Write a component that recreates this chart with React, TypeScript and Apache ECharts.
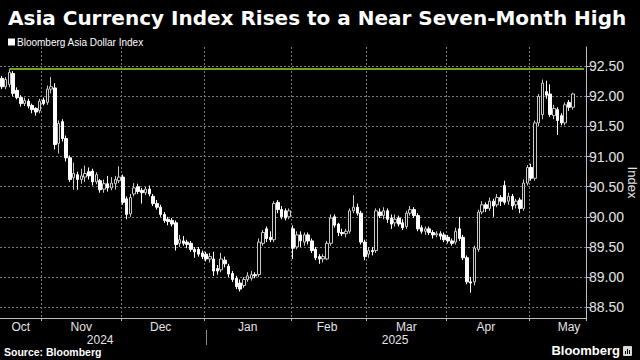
import React, { useEffect, useRef } from "react";
import * as echarts from "echarts";

const TITLE = "Asia Currency Index Rises to a Near Seven-Month High";
const SERIES_NAME = "Bloomberg Asia Dollar Index";
const SOURCE = "Source: Bloomberg";
const BRAND = "Bloomberg";
const AXIS_NAME = "Index";
const MONTH_NAMES = ["Jan", "Feb", "Mar", "Apr", "May", "Jun", "Jul", "Aug", "Sep", "Oct", "Nov", "Dec"];
const Y_TICKS = [88.5, 89, 89.5, 90, 90.5, 91, 91.5, 92, 92.5];
const Y_MIN = 88.32;
const Y_MAX = 92.82;
const FIRST_DAY = "2024-10-17";
const LAST_DAY = "2025-05-21";

// [open, close, low, high]
const ohlcOct = [
  [92.30, 92.16, 92.12, 92.34], [92.16, 92.28, 92.12, 92.32], [92.20, 92.40, 92.15, 92.46],
  [92.38, 92.05, 92.00, 92.42], [92.10, 91.98, 91.95, 92.15], [91.98, 91.88, 91.83, 92.02],
  [91.88, 91.93, 91.84, 91.98], [91.92, 91.84, 91.80, 91.96], [91.85, 91.78, 91.72, 91.88],
  [91.80, 91.74, 91.68, 91.82], [91.76, 91.92, 91.72, 91.96],
];
const ohlcNov = [
  [91.94, 91.88, 91.85, 91.98], [91.90, 92.12, 91.86, 92.18], [92.12, 92.16, 92.05, 92.32],
  [92.14, 91.20, 91.12, 92.22], [91.22, 91.55, 91.05, 91.60], [91.58, 91.30, 91.25, 91.62],
  [91.30, 90.98, 90.92, 91.35], [90.98, 90.62, 90.58, 91.02], [90.65, 90.72, 90.45, 90.90],
  [90.70, 90.62, 90.45, 90.75], [90.62, 90.68, 90.55, 90.80], [90.66, 90.72, 90.58, 90.85],
  [90.75, 90.68, 90.62, 90.82], [90.76, 90.58, 90.52, 90.80], [90.58, 90.70, 90.54, 90.74],
  [90.60, 90.45, 90.40, 90.63], [90.46, 90.55, 90.40, 90.62], [90.55, 90.48, 90.42, 90.68],
  [90.48, 90.56, 90.44, 90.66], [90.55, 90.62, 90.45, 90.68], [90.60, 90.66, 90.56, 90.84],
];
const ohlcDec = [
  [90.66, 90.24, 90.20, 90.70], [90.30, 90.04, 89.96, 90.34], [90.05, 90.32, 90.00, 90.38],
  [90.38, 90.48, 90.34, 90.56], [90.50, 90.42, 90.38, 90.55], [90.44, 90.40, 90.22, 90.48],
  [90.40, 90.46, 90.36, 90.50], [90.46, 90.38, 90.34, 90.52], [90.34, 90.22, 90.18, 90.38],
  [90.22, 90.16, 90.12, 90.28], [90.16, 90.04, 90.00, 90.20], [90.04, 89.94, 89.90, 90.08],
  [89.96, 89.92, 89.86, 90.00], [89.94, 89.88, 89.84, 89.98], [89.90, 89.54, 89.44, 89.94],
  [89.56, 89.62, 89.50, 89.70], [89.60, 89.56, 89.52, 89.68], [89.58, 89.54, 89.48, 89.62],
  [89.56, 89.46, 89.42, 89.60], [89.46, 89.42, 89.32, 89.50], [89.46, 89.38, 89.34, 89.50],
  [89.40, 89.34, 89.30, 89.44],
];
const ohlcJan = [
  [89.38, 89.30, 89.26, 89.42], [89.30, 89.34, 89.24, 89.40], [89.30, 89.10, 89.02, 89.42],
  [89.14, 89.10, 89.04, 89.20], [89.12, 89.30, 89.08, 89.40], [89.28, 89.22, 89.16, 89.34],
  [89.18, 89.05, 89.00, 89.22], [89.06, 88.96, 88.92, 89.10], [88.98, 88.84, 88.80, 89.02],
  [88.90, 88.80, 88.76, 88.96], [88.86, 88.96, 88.82, 89.00], [88.96, 89.02, 88.92, 89.08],
  [88.98, 89.04, 88.94, 89.10], [89.04, 89.02, 88.98, 89.08], [89.04, 89.58, 89.00, 89.64],
  [89.56, 89.74, 89.52, 89.78], [89.80, 89.64, 89.58, 89.84], [89.66, 89.62, 89.58, 89.76],
  [89.62, 90.22, 89.58, 90.26], [90.24, 90.12, 90.06, 90.28], [90.12, 90.00, 89.96, 90.18],
  [90.10, 89.98, 89.94, 90.14], [90.00, 90.10, 89.96, 90.14],
];
const ohlcFeb = [
  [89.80, 89.48, 89.30, 89.86], [89.50, 89.70, 89.46, 89.76], [89.70, 89.60, 89.50, 89.76],
  [89.58, 89.70, 89.52, 89.74], [89.70, 89.60, 89.54, 89.74], [89.60, 89.44, 89.40, 89.64],
  [89.46, 89.32, 89.28, 89.50], [89.34, 89.30, 89.22, 89.38], [89.30, 89.34, 89.24, 89.38],
  [89.30, 89.56, 89.28, 89.60], [89.56, 89.98, 89.52, 90.04], [90.00, 89.86, 89.82, 90.04],
  [89.88, 89.74, 89.68, 89.90], [89.74, 89.72, 89.68, 89.80], [89.72, 89.76, 89.66, 89.80],
  [89.76, 90.10, 89.72, 90.14], [90.10, 90.16, 90.06, 90.36], [90.16, 90.06, 90.02, 90.22],
  [90.06, 89.58, 89.54, 90.10], [89.58, 89.34, 89.28, 89.62],
];
const ohlcMar = [
  [89.38, 89.44, 89.32, 89.50], [89.44, 89.42, 89.36, 89.50], [89.44, 90.10, 89.40, 90.14],
  [90.08, 90.02, 89.98, 90.14], [90.02, 90.10, 89.96, 90.16], [90.10, 89.96, 89.90, 90.14],
  [89.98, 89.88, 89.80, 90.04], [89.90, 89.96, 89.84, 90.04], [89.98, 89.88, 89.84, 90.02],
  [89.90, 89.82, 89.78, 89.96], [89.84, 90.06, 89.80, 90.10], [90.06, 90.12, 90.02, 90.18],
  [90.12, 90.02, 89.98, 90.16], [90.02, 89.80, 89.76, 90.06], [89.82, 89.76, 89.72, 89.86],
  [89.76, 89.80, 89.70, 89.84], [89.80, 89.74, 89.70, 89.84], [89.74, 89.70, 89.64, 89.78],
  [89.70, 89.72, 89.66, 89.76], [89.72, 89.68, 89.62, 89.76], [89.70, 89.62, 89.58, 89.74],
];
const ohlcApr = [
  [89.66, 89.60, 89.56, 89.70], [89.60, 89.56, 89.52, 89.64], [89.58, 89.76, 89.54, 89.82],
  [89.80, 89.64, 89.60, 90.00], [89.66, 89.32, 89.28, 89.70], [89.32, 88.92, 88.88, 89.36],
  [88.92, 88.90, 88.74, 89.00], [88.92, 89.48, 88.86, 89.52], [89.46, 90.08, 89.42, 90.12],
  [90.08, 90.20, 90.04, 90.26], [90.20, 90.14, 90.08, 90.24], [90.14, 90.26, 90.10, 90.32],
  [90.26, 90.18, 90.00, 90.30], [90.20, 90.32, 90.16, 90.38], [90.32, 90.26, 90.18, 90.36],
  [90.52, 90.24, 90.20, 90.60], [90.26, 90.34, 90.20, 90.40], [90.34, 90.18, 90.12, 90.38],
  [90.20, 90.26, 90.14, 90.30], [90.28, 90.14, 90.06, 90.32], [90.14, 90.56, 90.10, 90.62],
  [90.56, 90.82, 90.52, 90.86],
];
const ohlcMay = [
  [90.82, 90.64, 90.60, 90.88], [90.64, 91.56, 90.60, 91.60], [91.56, 92.00, 91.50, 92.04],
  [91.70, 92.22, 91.62, 92.28], [92.08, 92.02, 91.96, 92.26], [92.04, 91.70, 91.66, 92.20],
  [91.68, 91.80, 91.62, 91.86], [91.78, 91.60, 91.36, 91.82], [91.68, 91.56, 91.52, 91.72],
  [91.56, 91.86, 91.52, 91.90], [91.90, 91.82, 91.76, 91.94], [91.82, 92.04, 91.78, 92.06],
];

function tradingDays(start: string, end: string): string[] {
  const out: string[] = [];
  const d = new Date(start + "T00:00:00Z");
  const e = new Date(end + "T00:00:00Z");
  while (d <= e) {
    const wd = d.getUTCDay();
    if (wd !== 0 && wd !== 6) out.push(d.toISOString().slice(0, 10));
    d.setUTCDate(d.getUTCDate() + 1);
  }
  return out;
}

function weekdaysInMonth(ym: string): number {
  const [y, m] = ym.split("-").map(Number);
  const last = new Date(Date.UTC(y, m, 0)).getUTCDate();
  let n = 0;
  for (let day = 1; day <= last; day++) {
    const wd = new Date(Date.UTC(y, m - 1, day)).getUTCDay();
    if (wd !== 0 && wd !== 6) n++;
  }
  return n;
}

export default function App() {
  const ref = useRef<HTMLDivElement>(null);
  useEffect(() => {
    if (!ref.current) return;
    const chart = echarts.init(ref.current, undefined, { renderer: "svg" });

    const dates = tradingDays(FIRST_DAY, LAST_DAY);
    const data = [...ohlcOct, ...ohlcNov, ...ohlcDec, ...ohlcJan, ...ohlcFeb, ...ohlcMar, ...ohlcApr, ...ohlcMay];

    const months: { ym: string; start: number; end: number }[] = [];
    dates.forEach((d, i) => {
      const ym = d.slice(0, 7);
      if (!months.length || months[months.length - 1].ym !== ym) months.push({ ym, start: i, end: i });
      else months[months.length - 1].end = i;
    });
    const monthStarts = new Set(months.slice(1).map((m) => m.start));
    const monthLabels = new Map<number, string>();
    months.forEach((m, k) => {
      const name = MONTH_NAMES[Number(m.ym.slice(5, 7)) - 1];
      let idx: number;
      if (k === 0) idx = m.start + Math.floor((m.end - m.start) / 2);
      else idx = m.start + Math.floor((weekdaysInMonth(m.ym) - 1) / 2);
      monthLabels.set(Math.min(idx, dates.length - 1), name);
    });

    const years: { y: string; start: number; end: number }[] = [];
    dates.forEach((d, i) => {
      const y = d.slice(0, 4);
      if (!years.length || years[years.length - 1].y !== y) years.push({ y, start: i, end: i });
      else years[years.length - 1].end = i;
    });
    const yearLabels = new Map<number, string>();
    years.forEach((y) => yearLabels.set(y.start + Math.floor((y.end - y.start) / 2), y.y));
    const yearStart = years.length > 1 ? years[1].start : -1;

    let hiIdx = 0;
    data.forEach((c, i) => { if (c[3] > data[hiIdx][3]) hiIdx = i; });
    const priorHigh = data[hiIdx][3];

    const labelColor = "#e4e4e4";
    const gridLine = { color: "#7a7a7a", type: [2, 2] as any, width: 1 };

    const option: any = {
      animation: false,
      backgroundColor: "#000000",
      title: {
        text: TITLE,
        left: 3,
        top: 3,
        textStyle: { color: "#ffffff", fontSize: 20, fontWeight: "bold", fontFamily: "DejaVu Sans" },
      },
      legend: {
        left: 3,
        top: 32,
        itemWidth: 7,
        itemHeight: 7,
        icon: "rect",
        selectedMode: false,
        textStyle: { color: "#ffffff", fontSize: 10, fontFamily: "Liberation Sans", padding: [0, 0, 0, -3] },
        data: [{ name: SERIES_NAME, itemStyle: { color: "#ffffff", borderWidth: 0 } }],
      },
      grid: { left: 0, right: 54, top: 47, bottom: 42, containLabel: false, outerBoundsMode: "none" },
      xAxis: [
        {
          type: "category",
          data: dates,
          boundaryGap: true,
          axisLine: { show: true, lineStyle: { color: "#bdbdbd", width: 1 } },
          axisTick: { show: true, interval: (i: number) => monthStarts.has(i), length: 3, lineStyle: { color: "#bdbdbd" } },
          axisLabel: {
            interval: (i: number) => monthLabels.has(i),
            formatter: (_v: string, i: number) => monthLabels.get(i) || "",
            color: labelColor,
            fontSize: 12,
            fontFamily: "Liberation Sans",
            margin: 3,
          },
          splitLine: { show: true, interval: (i: number) => monthStarts.has(i), lineStyle: gridLine },
        },
        {
          type: "category",
          data: dates,
          boundaryGap: true,
          position: "bottom",
          offset: 12,
          axisLine: { show: false },
          axisTick: {
            show: true,
            alignWithLabel: true,
            interval: (i: number) => i === yearStart,
            length: 15,
            lineStyle: { color: "#8a8a8a" },
          },
          axisLabel: {
            interval: (i: number) => yearLabels.has(i),
            formatter: (_v: string, i: number) => yearLabels.get(i) || "",
            color: labelColor,
            fontSize: 12,
            fontFamily: "Liberation Sans",
            margin: 4,
          },
          splitLine: { show: false },
        },
      ],
      yAxis: {
        type: "value",
        position: "right",
        min: Y_MIN,
        max: Y_MAX,
        axisLine: { show: true, lineStyle: { color: "#bdbdbd" } },
        axisTick: { show: true, customValues: Y_TICKS, length: 4, lineStyle: { color: "#bdbdbd" } },
        axisLabel: {
          customValues: Y_TICKS,
          formatter: (v: number) => v.toFixed(2),
          color: labelColor,
          fontSize: 14,
          fontFamily: "Liberation Sans",
          margin: 3,
        },
        splitLine: { show: true, lineStyle: gridLine },
        name: AXIS_NAME,
        nameLocation: "middle",
        nameRotate: -90,
        nameGap: 40,
        nameMoveOverlap: false,
        nameTextStyle: { color: labelColor, fontSize: 13, fontFamily: "Liberation Sans" },
      },
      series: [
        {
          type: "candlestick",
          name: SERIES_NAME,
          data,
          barWidth: 3,
          itemStyle: {
            color: "#000000",
            color0: "#ffffff",
            borderColor: "#c8c8c8",
            borderColor0: "#ffffff",
            borderWidth: 1,
          },
          markLine: {
            silent: true,
            symbol: ["none", "none"],
            label: { show: false },
            lineStyle: { color: "#6ea324", width: 2, type: "solid" },
            data: [[{ coord: [dates[hiIdx], priorHigh] }, { coord: [dates[dates.length - 1], priorHigh] }]],
          },
        },
      ],
      graphic: [
        {
          type: "text",
          left: 4,
          top: 346,
          style: { text: SOURCE, fill: "#ffffff", fontSize: 10.5, fontWeight: "bold", fontFamily: "Liberation Sans" },
        },
        {
          type: "text",
          right: 20,
          top: 344,
          style: { text: BRAND, fill: "#ffffff", fontSize: 13, fontWeight: "bold", fontFamily: "Liberation Sans" },
        },
        {
          type: "group",
          right: 8,
          top: 346,
          children: [
            { type: "rect", shape: { x: 0, y: 0, width: 9, height: 10, r: 1 }, style: { fill: "#d8d8d8" } },
            { type: "rect", shape: { x: 2, y: 5, width: 1, height: 3 }, style: { fill: "#000" } },
            { type: "rect", shape: { x: 4, y: 3, width: 1, height: 5 }, style: { fill: "#000" } },
            { type: "rect", shape: { x: 6, y: 4, width: 1, height: 4 }, style: { fill: "#000" } },
          ],
        },
      ],
    };
    chart.setOption(option);
    return () => chart.dispose();
  }, []);
  return <div ref={ref} style={{ width: 640, height: 360, position: "absolute", left: 0, top: 0 }} />;
}
